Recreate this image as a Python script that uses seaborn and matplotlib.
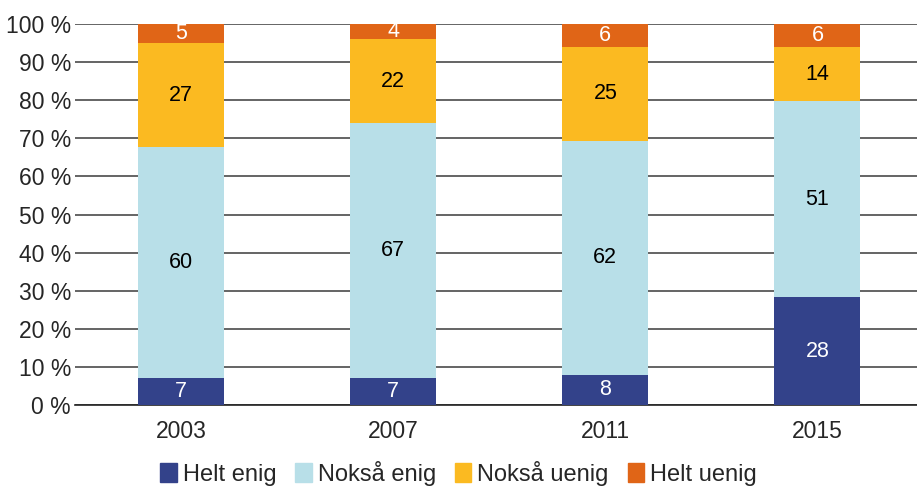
import numpy as np
import pandas as pd
import seaborn as sns
import matplotlib.pyplot as plt
from matplotlib.patches import Patch

years = ["2003", "2007", "2011", "2015"]
categories = ["Helt enig", "Nokså enig", "Nokså uenig", "Helt uenig"]
helt_enig = [7, 7, 8, 28]
noksa_enig = [60, 67, 62, 51]
noksa_uenig = [27, 22, 25, 14]
helt_uenig = [5, 4, 6, 6]

colors = ["#33428a", "#b8dfe8", "#fbba21", "#e06517"]
text_colors = ["white", "black", "black", "white"]


def build_frame():
    df = pd.DataFrame({"År": years, "Helt enig": helt_enig, "Nokså enig": noksa_enig,
                       "Nokså uenig": noksa_uenig, "Helt uenig": helt_uenig})
    total = df[categories].sum(axis=1)
    # scale to 100 % stacked
    for c in categories:
        df[c + "_pct"] = df[c] / total * 100
    cum = df[[c + "_pct" for c in categories]].cumsum(axis=1)
    for i, c in enumerate(categories):
        df[c + "_top"] = cum.iloc[:, i]
    return df


def main():
    sns.set_style("white")
    plt.rcParams["font.family"] = ["Liberation Sans", "DejaVu Sans"]
    df = build_frame()

    fig, ax = plt.subplots(figsize=(9.17, 4.91), dpi=100)
    fig.subplots_adjust(left=0.082, right=1.007, top=0.951, bottom=0.175)

    # draw from the top layer down so lower layers cover upper ones
    for i in range(len(categories) - 1, -1, -1):
        c = categories[i]
        sns.barplot(data=df, x="År", y=c + "_top", color=colors[i], width=0.405,
                    saturation=1, ax=ax, zorder=3, linewidth=0)

    for j in range(len(years)):
        prev = 0
        for i, c in enumerate(categories):
            top = df[c + "_top"].iloc[j]
            ax.text(j, (prev + top) / 2, str(df[c].iloc[j]), ha="center", va="center",
                    color=text_colors[i], fontsize=15.5, zorder=4)
            prev = top

    ax.set_ylim(0, 100)
    ax.set_xlim(-0.5, 3.5)
    ax.set_yticks(range(0, 101, 10))
    ax.set_yticklabels([f"{v} %" for v in range(0, 101, 10)], fontsize=16.5)
    ax.tick_params(axis="x", labelsize=16.5, length=0, pad=11)
    ax.tick_params(axis="y", length=0, pad=3)
    ax.yaxis.grid(True, color="#3a3a3a", linewidth=1.1, zorder=0)
    ax.set_axisbelow(True)
    ax.set_xlabel("")
    ax.set_ylabel("")
    for s in ["top", "right", "left"]:
        ax.spines[s].set_visible(False)
    ax.spines["bottom"].set_color("#222222")
    ax.spines["bottom"].set_linewidth(1.2)

    handles = [Patch(color=colors[i], label=categories[i]) for i in range(len(categories))]
    fig.legend(handles=handles, loc="lower center", bbox_to_anchor=(0.5, -0.033), ncol=4,
               frameon=False, fontsize=17, handlelength=0.7, handleheight=0.85,
               handletextpad=0.25, columnspacing=0.8)

    plt.savefig("out.png", dpi=100)


if __name__ == "__main__":
    main()
